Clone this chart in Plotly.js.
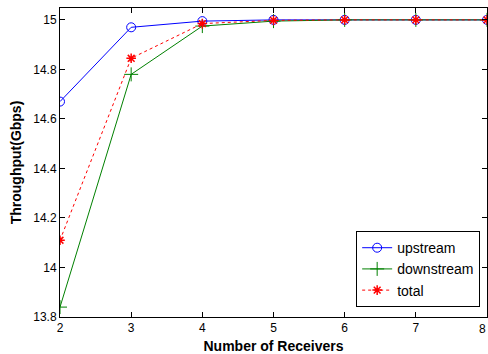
<!DOCTYPE html>
<html><head><meta charset="utf-8">
<script src="https://cdn.plot.ly/plotly-3.0.1.min.js"></script>
<style>html,body{margin:0;padding:0;background:#fff}#chart{width:488px;height:354px}</style>
</head><body><div id="chart"></div>
<script>
const receivers = [2, 3, 4, 5, 6, 7, 8];
const upstream = [14.67, 14.97, 14.995, 15.0, 15.0, 15.0, 15.0];
const downstream = [13.84, 14.78, 14.975, 14.995, 15.0, 15.0, 15.0];
const total = [14.11, 14.845, 14.985, 14.998, 15.0, 15.0, 15.0];
const yTicks = [13.8, 14, 14.2, 14.4, 14.6, 14.8, 15];
const yTickText = ['13.8', '14', '14.2', '14.4', '14.6', '14.8', '15'];

const FONT = 'Arial, Liberation Sans, sans-serif';

const traces = [
  {x: receivers, y: upstream, name: 'upstream', mode: 'lines+markers',
   line: {color: '#0000ff', width: 1},
   marker: {symbol: 'circle-open', size: 9, color: '#0000ff', line: {width: 1}}},
  {x: receivers, y: downstream, name: 'downstream', mode: 'lines+markers',
   line: {color: '#008000', width: 1},
   marker: {symbol: 'cross-thin-open', size: 10, color: '#008000', line: {width: 1, color: '#008000'}}},
  {x: receivers, y: total, name: 'total', mode: 'lines+markers',
   line: {color: '#ff0000', width: 1, dash: '3px,3px'},
   marker: {symbol: 'asterisk-open', size: 8, color: '#ff0000', line: {width: 1.5, color: '#ff0000'}}}
];

const axisCommon = {
  showgrid: false, zeroline: false, showline: true, linecolor: '#000', linewidth: 1,
  mirror: 'allticks', ticks: 'inside', ticklen: 5, tickcolor: '#000',
  tickfont: {family: FONT, size: 12, color: '#000'}
};

const layout = {
  width: 488, height: 354,
  margin: {l: 60, r: 1, t: 8, b: 37},
  paper_bgcolor: '#fff', plot_bgcolor: '#fff',
  showlegend: true,
  legend: {x: 0.984, y: 0.032, xanchor: 'right', yanchor: 'bottom',
    bordercolor: '#000', borderwidth: 1, bgcolor: '#fff',
    font: {family: FONT, size: 14, color: '#000'},
    tracegroupgap: 0, itemwidth: 30},
  xaxis: Object.assign({}, axisCommon, {
    range: [2, 8], tickvals: receivers.slice(0, 6), ticktext: receivers.slice(0, 6).map(String),
    title: {text: '<b>Number of Receivers</b>', standoff: 6,
      font: {family: FONT, size: 14, color: '#000'}}
  }),
  yaxis: Object.assign({}, axisCommon, {
    range: [13.8, 15.048], tickvals: yTicks, ticktext: yTickText,
    title: {text: '<b>Throughput(Gbps)</b>', standoff: 8,
      font: {family: FONT, size: 14, color: '#000'}}
  }),
  annotations: [{xref: 'x', yref: 'paper', x: receivers[6], y: 0, yshift: -3, xshift: 1,
    text: String(receivers[6]), showarrow: false, xanchor: 'right', yanchor: 'top',
    font: {family: FONT, size: 12, color: '#000'}}]
};

Plotly.newPlot('chart', traces, layout, {displayModeBar: false, staticPlot: true});
</script></body></html>
